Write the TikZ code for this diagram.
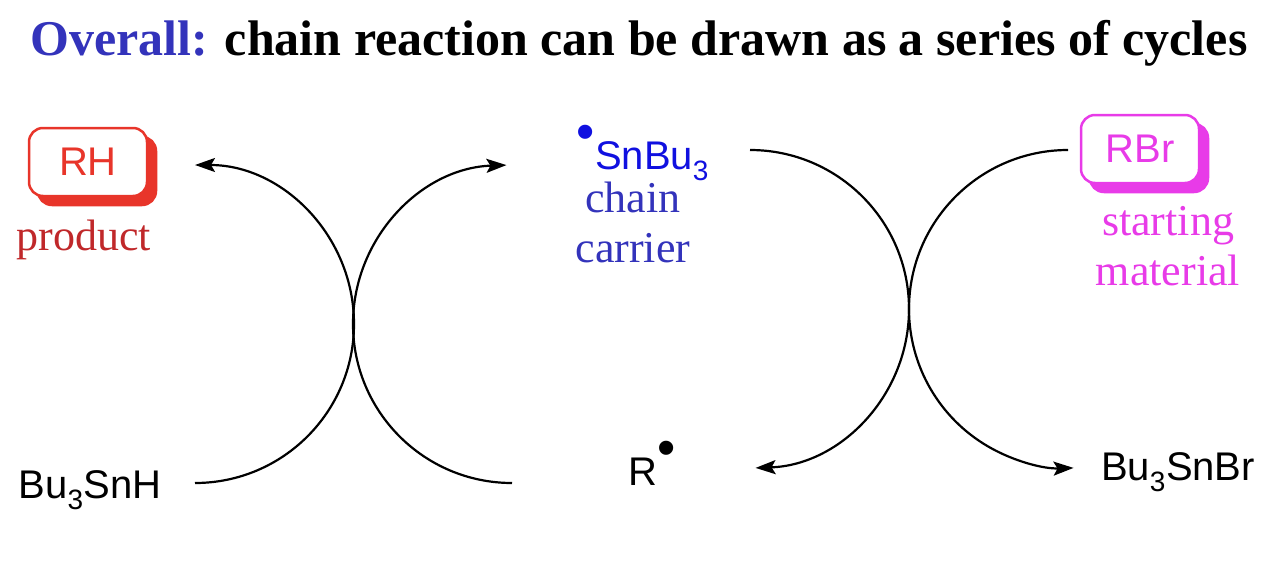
\documentclass[tikz,border=0pt]{standalone}
\usepackage{fontspec}
\setmainfont{Liberation Serif}
\setsansfont{Liberation Sans}
\usetikzlibrary{arrows.meta,shadows}
\definecolor{tblue}{HTML}{3333BB}
\definecolor{pred}{HTML}{E8352A}
\definecolor{dred}{HTML}{C0282A}
\definecolor{mag}{HTML}{E83BE8}
\definecolor{sblue}{HTML}{1010E0}
\tikzset{
  arcl/.style={line width=2.2pt},
  arct/.style={arcl,-{Stealth[length=20pt,width=14pt,inset=4pt]}},
  chem/.style={font=\sffamily\fontsize{40}{40}\selectfont,inner sep=0pt},
  lab/.style={font=\fontsize{44}{50}\selectfont,inner sep=0pt,align=center},
  boxed/.style={draw=#1,line width=2.5pt,fill=white,rounded corners=14pt,minimum width=118pt,minimum height=68pt,
     copy shadow={shadow xshift=9pt,shadow yshift=-9pt,draw=#1,fill=#1},font=\sffamily\fontsize{40}{40}\selectfont,text=#1}
}
\newcommand{\rad}{\raisebox{0.5em}{\scalebox{1.3}{\textbullet}}}
\begin{document}
\begin{tikzpicture}[x=1pt,y=-1pt]
\useasboundingbox (0,0) rectangle (1272,570);
\node[inner sep=0pt,font=\bfseries\fontsize{50}{50}\selectfont] (title) at (639,43) {\textcolor{tblue}{Overall:} chain reaction can be drawn as a series of cycles};
\node[boxed=pred] (rh) at (88,162) {RH};
\node[lab,text=dred] (prod) at (84,240) {product};
\node[boxed=mag] (rbr) at (1140,149) {RBr};
\node[lab,text=mag] (sm) at (1168,246) {starting\\material};
\node[chem,text=sblue] (sn) at (643,153) {\rad SnBu\textsubscript{3}};
\node[lab,text=tblue] (cc) at (633,222) {chain\\carrier};
\node[chem] (r) at (652,463) {R\rad};
\node[chem] (snbr) at (1178,472) {Bu\textsubscript{3}SnBr};
\node[chem] (snh) at (90,490) {Bu\textsubscript{3}SnH};
\coordinate (a1) at (195,483);
\coordinate (a2) at (512,483);
\coordinate (a3) at (750,150);
\coordinate (a4) at (1068,150);
\draw[arct] (a1) arc[start angle=-90,end angle=90,radius=159pt];
\draw[arct] (a2) arc[start angle=-90,end angle=-268,radius=159pt];
\draw[arct] (a3) arc[start angle=90,end angle=-88,radius=159pt];
\draw[arct] (a4) arc[start angle=90,end angle=272,radius=159pt];
\end{tikzpicture}
\end{document}
